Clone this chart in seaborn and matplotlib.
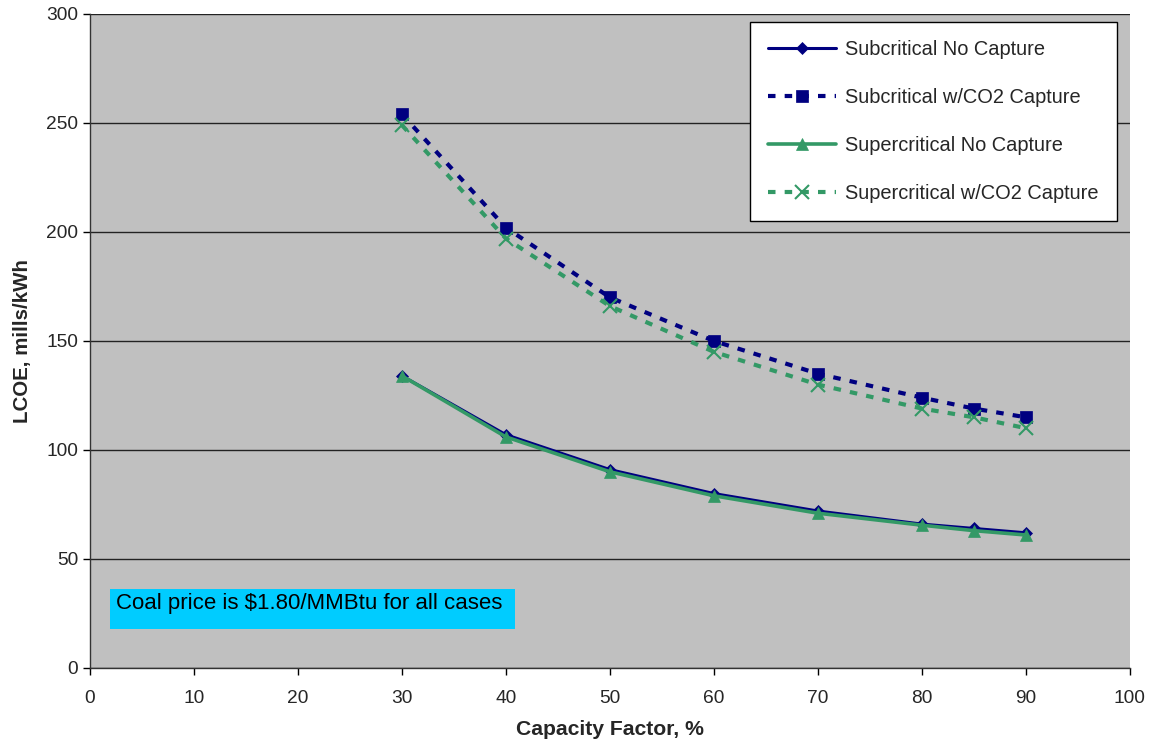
import pandas as pd
import numpy as np
import matplotlib
matplotlib.use("Agg")
import matplotlib.pyplot as plt
from matplotlib.patches import Rectangle
import seaborn as sns

# data
capacity_factor = [30, 40, 50, 60, 70, 80, 85, 90]
sub_no_capture = [134, 107, 91, 80, 72, 66, 64, 62]
sub_co2_capture = [254, 202, 170, 150, 135, 124, 119, 115]
super_no_capture = [134, 106, 90, 79, 71, 65.5, 63, 61]
super_co2_capture = [249, 197, 166, 145, 130, 119, 115, 110]

series_names = ["Subcritical No Capture", "Subcritical w/CO2 Capture",
                "Supercritical No Capture", "Supercritical w/CO2 Capture"]
series_values = [sub_no_capture, sub_co2_capture, super_no_capture, super_co2_capture]

NAVY = "#000080"
GREEN = "#339966"

styles = {
    "Subcritical No Capture": dict(color=NAVY, marker="D", markersize=6, ls="-", lw=2.2),
    "Subcritical w/CO2 Capture": dict(color=NAVY, marker="s", markersize=9, ls=(0, (1.8, 2.2)), lw=3),
    "Supercritical No Capture": dict(color=GREEN, marker="^", markersize=9, ls="-", lw=2.6),
    "Supercritical w/CO2 Capture": dict(color=GREEN, marker="x", markersize=10, ls=(0, (1.8, 2.2)), lw=3),
}

df = pd.DataFrame({
    "cf": capacity_factor * 4,
    "lcoe": sum(series_values, []),
    "series": np.repeat(series_names, len(capacity_factor)),
})

sns.set_style("white")
plt.rcParams["font.family"] = ["Liberation Sans", "DejaVu Sans"]

fig = plt.figure(figsize=(11.49, 7.44), dpi=100)
ax = fig.add_axes([0.0783, 0.1022, 0.905, 0.879])
ax.set_facecolor("#C0C0C0")

for name in series_names:
    st = styles[name]
    sub = df[df["series"] == name]
    sns.lineplot(data=sub, x="cf", y="lcoe", ax=ax, color=st["color"],
                 marker=st["marker"], markersize=st["markersize"],
                 linestyle=st["ls"], linewidth=st["lw"],
                 markeredgecolor=st["color"], markeredgewidth=1.5 if st["marker"] == "x" else 0.5,
                 label=name, zorder=3)

ax.set_xlim(0, 100)
ax.set_ylim(0, 300)
ax.set_xticks(range(0, 101, 10))
ax.set_yticks(range(0, 301, 50))
ax.yaxis.grid(True, color="#222222", lw=1)
ax.set_axisbelow(True)
ax.tick_params(axis="both", direction="out", length=5, width=1, color="black",
               labelsize=13.8, bottom=True, left=True)
ax.tick_params(axis="x", pad=11)
for side in ["right", "top"]:
    ax.spines[side].set_visible(False)
for side in ["left", "bottom"]:
    ax.spines[side].set_color("#333333")
    ax.spines[side].set_linewidth(1)

ax.set_xlabel("Capacity Factor, %", fontsize=15.2, fontweight="bold", labelpad=9)
ax.set_ylabel("LCOE, mills/kWh", fontsize=14.8, fontweight="bold", labelpad=10)

leg = ax.legend(loc="upper right", bbox_to_anchor=(0.9875, 0.988), fontsize=14.4,
                frameon=True, fancybox=False, edgecolor="black", facecolor="white",
                framealpha=1, handlelength=3.4, labelspacing=1.45, borderpad=0.9,
                handletextpad=0.45, borderaxespad=0)
leg.get_frame().set_linewidth(1)

# note box in the lower left
ax.add_patch(Rectangle((1.9, 17.9), 39.0, 18.3, facecolor="#00CCFF", edgecolor="none", zorder=4))
ax.text(2.5, 29.5, "Coal price is $1.80/MMBtu for all cases", fontsize=16, color="black",
        va="center", ha="left", zorder=5)

fig.savefig("out.png", dpi=100)
